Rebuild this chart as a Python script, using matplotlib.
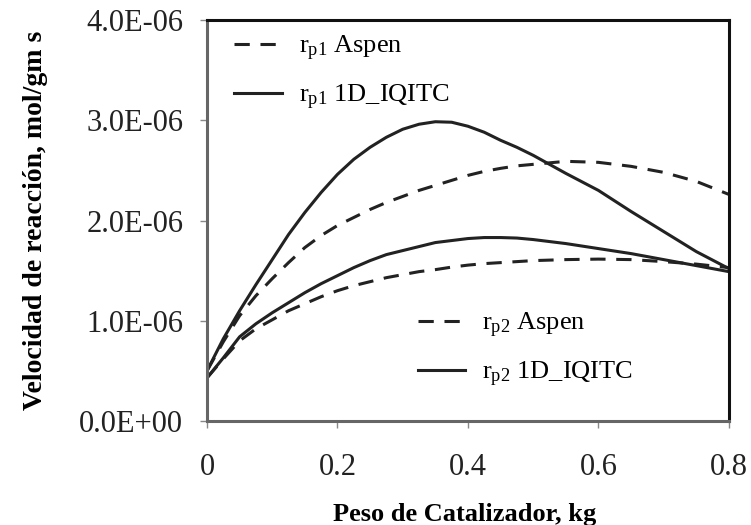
import matplotlib
matplotlib.use("Agg")
import matplotlib.pyplot as plt
from matplotlib.ticker import FuncFormatter

plt.rcParams["font.family"] = ["Liberation Serif", "DejaVu Serif"]
plt.rcParams["mathtext.fontset"] = "custom"
plt.rcParams["mathtext.rm"] = "Liberation Serif"
plt.rcParams["mathtext.it"] = "Liberation Serif:italic"

# catalyst weight, kg
peso = [0.0, 0.025, 0.05, 0.075, 0.1, 0.125, 0.15, 0.175, 0.2, 0.225, 0.25, 0.275, 0.3,
        0.325, 0.35, 0.375, 0.4, 0.425, 0.45, 0.475, 0.5, 0.55, 0.6, 0.65, 0.7, 0.75, 0.8]

# reaction rates, mol/gm s (in 1e-6 units)
rp1_aspen = [0.50, 0.79, 1.05, 1.25, 1.42, 1.58, 1.73, 1.85, 1.95, 2.03, 2.11, 2.18, 2.24,
             2.30, 2.35, 2.40, 2.45, 2.49, 2.52, 2.545, 2.56, 2.59, 2.58, 2.54, 2.48, 2.39, 2.26]
rp1_iqitc = [0.50, 0.82, 1.10, 1.36, 1.61, 1.86, 2.08, 2.28, 2.46, 2.61, 2.73, 2.83, 2.91,
             2.96, 2.985, 2.98, 2.94, 2.88, 2.80, 2.73, 2.65, 2.47, 2.30, 2.09, 1.89, 1.69, 1.52]
rp2_aspen = [0.43, 0.62, 0.80, 0.92, 1.01, 1.10, 1.17, 1.24, 1.30, 1.35, 1.39, 1.43, 1.46,
             1.49, 1.51, 1.535, 1.555, 1.57, 1.58, 1.59, 1.60, 1.61, 1.615, 1.61, 1.59, 1.565, 1.53]
rp2_iqitc = [0.43, 0.63, 0.84, 0.97, 1.08, 1.18, 1.28, 1.37, 1.45, 1.53, 1.60, 1.66, 1.70,
             1.74, 1.78, 1.80, 1.82, 1.83, 1.83, 1.825, 1.81, 1.77, 1.72, 1.67, 1.61, 1.55, 1.49]

xticks = [0, 0.2, 0.4, 0.6, 0.8]
yticks = [0, 1e-6, 2e-6, 3e-6, 4e-6]

fig = plt.figure(figsize=(7.51, 5.25), dpi=100)
ax = fig.add_axes([0.2756, 0.198, 0.695, 0.764])

sc = 1e-6
lw = 2.2
dash = (5, 3.5)
l1, = ax.plot(peso, [v * sc for v in rp1_aspen], color="#222222", lw=lw, ls="--", dashes=dash)
l2, = ax.plot(peso, [v * sc for v in rp1_iqitc], color="#222222", lw=lw)
l3, = ax.plot(peso, [v * sc for v in rp2_aspen], color="#222222", lw=lw, ls="--", dashes=dash)
l4, = ax.plot(peso, [v * sc for v in rp2_iqitc], color="#222222", lw=lw)

ax.set_xlim(0, 0.8)
ax.set_ylim(0, 4e-6)
ax.set_xticks(xticks)
ax.set_yticks(yticks)
ax.xaxis.set_major_formatter(FuncFormatter(lambda v, p: "0" if v == 0 else f"{v:g}"))
ax.yaxis.set_major_formatter(FuncFormatter(lambda v, p: f"{v:.1E}"))
ax.tick_params(axis="both", direction="out", length=5, width=1, color="#888888",
               labelsize=22, labelcolor="#222222")
ax.tick_params(axis="x", pad=18)
ax.tick_params(axis="y", pad=12)

for side in ["top", "right"]:
    ax.spines[side].set_linewidth(2.2)
    ax.spines[side].set_color("#111111")
for side in ["left", "bottom"]:
    ax.spines[side].set_linewidth(2.2)
    ax.spines[side].set_color("#666666")

ax.set_xlabel("Peso de Catalizador, kg", fontsize=19, fontweight="bold")
ax.set_ylabel("Velocidad de reacción, mol/gm s", fontsize=20, fontweight="bold")
ax.xaxis.set_label_coords(0.494, -0.205)
ax.yaxis.set_label_coords(-0.305, 0.5)

leg_kw = dict(loc="upper left", frameon=False, fontsize=19, handlelength=1.8,
              labelspacing=0.75, handletextpad=0.65, borderpad=0.3)
leg1 = ax.legend([l1, l2], ["r$_{\\rm p1}$ Aspen", "r$_{\\rm p1}$ 1D_IQITC"],
                 bbox_to_anchor=(0.012, 1.018), **leg_kw)
ax.add_artist(leg1)
ax.legend([l3, l4], ["r$_{\\rm p2}$ Aspen", "r$_{\\rm p2}$ 1D_IQITC"],
          bbox_to_anchor=(0.363, 0.328), **leg_kw)

fig.savefig("out.png", dpi=100)
